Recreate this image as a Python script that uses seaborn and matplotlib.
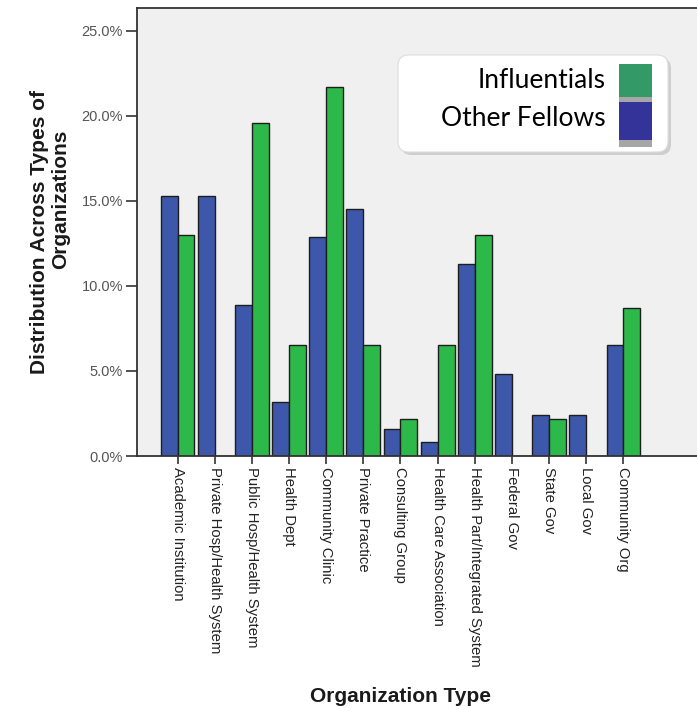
import matplotlib
matplotlib.use("Agg")
import matplotlib.pyplot as plt
from matplotlib.patches import FancyBboxPatch, Rectangle
from matplotlib.ticker import FuncFormatter
import seaborn as sns
import pandas as pd

categories = ["Academic Institution", "Private Hosp/Health System", "Public Hosp/Health System",
              "Health Dept", "Community Clinic", "Private Practice", "Consulting Group",
              "Health Care Association", "Health Part/Integrated System", "Federal Gov",
              "State Gov", "Local Gov", "Community Org"]
other_fellows = [15.3, 15.3, 8.9, 3.2, 12.9, 14.5, 1.6, 0.8, 11.3, 4.8, 2.4, 2.4, 6.5]
influentials = [13.0, 0.0, 19.6, 6.5, 21.7, 6.5, 2.2, 6.5, 13.0, 0.0, 2.2, 0.0, 8.7]
series_names = ["Other Fellows", "Influentials"]
yticks = [0, 5, 10, 15, 20, 25]

sns.set_style("white")
plt.rcParams["font.family"] = ["Liberation Sans", "DejaVu Sans"]

df = pd.DataFrame({
    "Organization Type": categories * 2,
    "Series": [series_names[0]] * len(categories) + [series_names[1]] * len(categories),
    "Value": other_fellows + influentials,
})

W, H = 697, 709
fig = plt.figure(figsize=(W / 100, H / 100), dpi=100)
fig.patch.set_facecolor("white")

def fx(x):
    return x / W

def fy(y):
    return 1 - y / H

ax = fig.add_axes([fx(137), fy(456), 1 - fx(137), (456 - 8) / H])
ax.set_facecolor("#f0f0f0")

palette = {"Other Fellows": "#3d57aa", "Influentials": "#2db84a"}
sns.barplot(data=df, x="Organization Type", y="Value", hue="Series", hue_order=series_names,
            order=categories, palette=palette, width=0.91, edgecolor="#1e1e1e", linewidth=1.0,
            saturation=1, legend=False, ax=ax)

ax.set_xlim(-1.09, 13.98)
ax.set_ylim(0, 26.33)
ax.set_yticks(yticks)
ax.yaxis.set_major_formatter(FuncFormatter(lambda v, p: f"{v:.1f}%"))
ax.set_xlabel("")
ax.set_ylabel("")
ax.tick_params(axis="y", direction="out", length=8, width=1.2, color="#333333",
               labelsize=10.5, labelcolor="#555555", pad=2, left=True)
ax.tick_params(axis="x", direction="out", length=6, width=1.2, color="#333333",
               labelsize=10.7, labelcolor="#222222", pad=2, bottom=True)
for lab in ax.get_xticklabels():
    lab.set_rotation(270)
    lab.set_ha("center")
    lab.set_va("top")

for side in ["left", "bottom", "top"]:
    ax.spines[side].set_visible(True)
    ax.spines[side].set_color("#333333")
    ax.spines[side].set_linewidth(1.3)
ax.spines["right"].set_visible(False)

# axis titles
fig.text(fx(40), fy(232), "Distribution Across Types of", rotation=90, ha="center", va="center",
         fontsize=15, fontweight="bold", color="#1a1a1a")
fig.text(fx(61), fy(199.5), "Organizations", rotation=90, ha="center", va="center",
         fontsize=15, fontweight="bold", color="#1a1a1a")
fig.text(fx(401), fy(697), "Organization Type", ha="center", va="center",
         fontsize=15, fontweight="bold", color="#1a1a1a")

# legend box
shadow = FancyBboxPatch((fx(401), fy(155)), fx(668) - fx(398), fy(55) - fy(152),
                        boxstyle="round,pad=0,rounding_size=0.015", transform=fig.transFigure,
                        facecolor="#b8b8b8", edgecolor="none", alpha=0.6, zorder=5)
fig.add_artist(shadow)
box = FancyBboxPatch((fx(398), fy(152)), fx(668) - fx(398), fy(55) - fy(152),
                     boxstyle="round,pad=0,rounding_size=0.015", transform=fig.transFigure,
                     facecolor="white", edgecolor="#dddddd", linewidth=0.8, zorder=6)
fig.add_artist(box)
sw = [("#339966", 64, 97, 103), ("#333399", 102, 140, 147)]
for color, y0, y1, y2 in sw:
    fig.add_artist(Rectangle((fx(619), fy(y1)), fx(652) - fx(619), fy(y0) - fy(y1),
                             transform=fig.transFigure, facecolor=color, edgecolor="none", zorder=7))
    fig.add_artist(Rectangle((fx(619), fy(y2)), fx(652) - fx(619), fy(y1) - fy(y2),
                             transform=fig.transFigure, facecolor="#a6a6a6", edgecolor="none", zorder=7))
fig.text(fx(606), fy(81), "Influentials", ha="right", va="center", fontsize=19,
         family=["Lato", "DejaVu Sans"], color="black", zorder=8)
fig.text(fx(606), fy(119), "Other Fellows", ha="right", va="center", fontsize=19,
         family=["Lato", "DejaVu Sans"], color="black", zorder=8)

fig.savefig("out.png", dpi=100)
